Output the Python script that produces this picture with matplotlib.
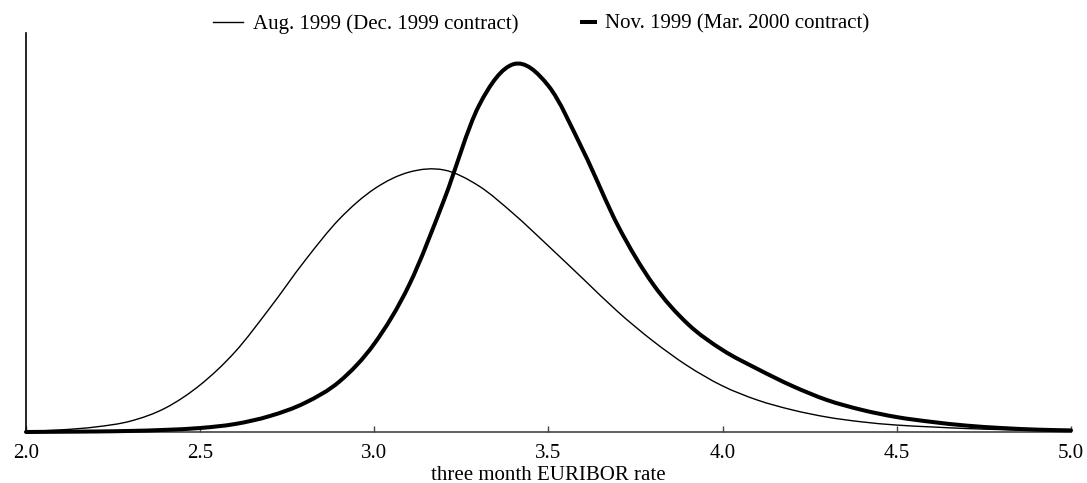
import matplotlib
matplotlib.use("Agg")
import matplotlib.pyplot as plt
from matplotlib.path import Path
from matplotlib.patches import PathPatch
from matplotlib.lines import Line2D
import numpy as np

plt.rcParams['font.family'] = ['Liberation Serif', 'DejaVu Serif']

# implied densities of the three month EURIBOR rate, on a 0.1 grid from 2.0 to 5.0
rate = np.round(np.arange(2.0, 5.0001, 0.1), 1)

aug_1999 = [0.002, 0.008, 0.019, 0.041, 0.090, 0.177, 0.301, 0.466, 0.643, 0.801,
            0.914, 0.977, 0.985, 0.925, 0.820, 0.699, 0.575, 0.451, 0.342, 0.248,
            0.173, 0.120, 0.083, 0.056, 0.038, 0.026, 0.019, 0.013, 0.009, 0.006,
            0.004]

nov_1999 = [0.000, 0.001, 0.002, 0.004, 0.008, 0.015, 0.030, 0.060, 0.109, 0.190,
            0.332, 0.553, 0.872, 1.226, 1.383, 1.301, 1.056, 0.774, 0.556, 0.406,
            0.308, 0.237, 0.173, 0.120, 0.083, 0.056, 0.038, 0.024, 0.015, 0.009,
            0.006]

labels = ['Aug. 1999 (Dec. 1999 contract)', 'Nov. 1999 (Mar. 2000 contract)']
ticks = [2.0, 2.5, 3.0, 3.5, 4.0, 4.5, 5.0]


def smooth_path(x, y):
    # Catmull-Rom spline through the points, written as cubic Bezier segments
    p = np.column_stack([x, y]).astype(float)
    ext = np.vstack([p[0], p, p[-1]])
    verts = [p[0]]
    codes = [Path.MOVETO]
    for i in range(len(p) - 1):
        p0, p1, p2, p3 = ext[i], ext[i + 1], ext[i + 2], ext[i + 3]
        verts += [p1 + (p2 - p0) / 6, p2 - (p3 - p1) / 6, p2]
        codes += [Path.CURVE4] * 3
    return Path(verts, codes)


fig = plt.figure(figsize=(10.87, 4.83), dpi=100)
ax = fig.add_axes([26 / 1087, 51 / 483, 1045 / 1087, 399 / 483])

ax.add_patch(PathPatch(smooth_path(rate, aug_1999), fill=False, edgecolor='black',
                       lw=1.0, clip_on=False, zorder=3))
ax.add_patch(PathPatch(smooth_path(rate, nov_1999), fill=False, edgecolor='black',
                       lw=2.9, clip_on=False, zorder=4, capstyle='round'))

ax.set_xlim(2.0, 5.0)
ax.set_ylim(0, 1.5)
ax.set_xticks(ticks)
ax.set_xticklabels(['%.1f' % t for t in ticks])
ax.set_yticks([])
ax.tick_params(axis='x', direction='in', length=4, width=1, color='#444444',
               pad=9, labelsize=15)
ax.set_xlabel('three month EURIBOR rate', fontsize=15, labelpad=1.5)

for side in ['top', 'right']:
    ax.spines[side].set_visible(False)
ax.spines['left'].set_linewidth(1.2)
ax.spines['bottom'].set_linewidth(1.2)
ax.spines['bottom'].set_color('#444444')

h1 = Line2D([], [], color='black', lw=1.0)
h2 = Line2D([], [], color='black', lw=2.9)
fig.legend([h1], [labels[0]], loc='center left',
           bbox_to_anchor=(213 / 1087, 459 / 483), frameon=False,
           fontsize=15, borderpad=0, borderaxespad=0,
           handlelength=1.43, handletextpad=0.48)
fig.legend([h2], [labels[1]], loc='center left',
           bbox_to_anchor=(582 / 1087, 459 / 483), frameon=False,
           fontsize=15, borderpad=0, borderaxespad=0,
           handlelength=0.62, handletextpad=0.48)

fig.savefig('out.png', dpi=100)
